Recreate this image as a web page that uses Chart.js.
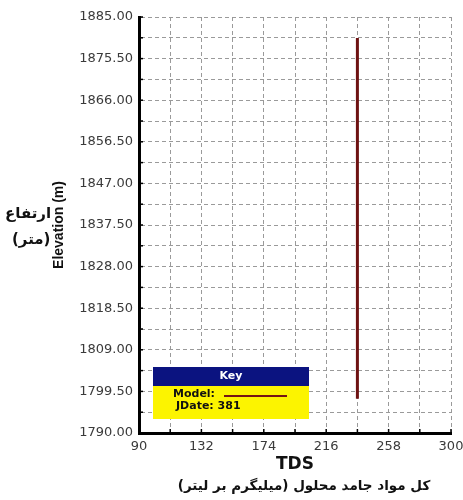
<!DOCTYPE html>
<html>
<head>
<style>
	body { margin: 0; background: #fff; }
	#wrap { position: relative; width: 463px; height: 500px; }
	.fa { position: absolute; font-family: "DejaVu Sans", sans-serif; font-weight: bold; font-size: 15px; color: #111; direction: rtl; white-space: nowrap; }
</style>
</head>
<body>
	<div id="wrap">
		<canvas id="myChart" width="463" height="500"></canvas>
		<div class="fa" style="left:5px; top:204px;">ارتفاع</div>
		<div class="fa" style="left:12px; top:230px;">(متر)</div>
		<div class="fa" style="left:150px; width:308px; text-align:center; top:477px; font-size:13.5px;">کل مواد جامد محلول (میلیگرم بر لیتر)</div>
	</div>

	<script src="https://cdn.jsdelivr.net/npm/chart.js"></script>

	<script>

		// values
		const tds = [237, 237]
		const elevation = [1797.8, 1880.2]
		const xTickLabels = [90, 132, 174, 216, 258, 300]
		const yTickLabels = [1790, 1799.5, 1809, 1818.5, 1828, 1837.5, 1847, 1856.5, 1866, 1875.5, 1885]
		const keyDate = 381

		const points = tds.map((x, i) => ({ x: x, y: elevation[i] }))

		// small tick marks on the inside of the axes + the "Key" box
		const extras = {
			id: 'extras',
			afterDraw(chart) {
				const c = chart.ctx
				const a = chart.chartArea
				const xs = chart.scales.x, ys = chart.scales.y
				c.save()
				c.strokeStyle = '#000'
				c.lineWidth = 1.5
				xs.ticks.forEach(t => {
					const px = xs.getPixelForValue(t.value)
					c.beginPath(); c.moveTo(px, a.bottom); c.lineTo(px, a.bottom - 4); c.stroke()
				})
				ys.ticks.forEach(t => {
					const py = ys.getPixelForValue(t.value)
					c.beginPath(); c.moveTo(a.left, py); c.lineTo(a.left + 4, py); c.stroke()
				})

				// key box
				const bx = a.left + 14, by = a.bottom - 66, bw = 156
				c.fillStyle = '#0b1380'
				c.fillRect(bx, by, bw, 19)
				c.fillStyle = '#fcf400'
				c.fillRect(bx, by + 19, bw, 33)
				c.fillStyle = '#fff'
				c.font = 'bold 11px "DejaVu Sans"'
				c.textAlign = 'center'
				c.textBaseline = 'middle'
				c.fillText('Key', bx + bw / 2, by + 9)
				c.fillStyle = '#111'
				c.textAlign = 'left'
				c.fillText('Model:', bx + 20, by + 27)
				c.fillText('JDate: ' + keyDate, bx + 23, by + 39)
				c.strokeStyle = '#741414'
				c.lineWidth = 2
				c.beginPath(); c.moveTo(bx + 71, by + 29); c.lineTo(bx + 134, by + 29); c.stroke()
				c.restore()
			}
		}

		const tickFont = { family: '"DejaVu Sans"', size: 13 }

		const config = {
			type: 'scatter',
			data: {
				datasets: [
					{
						label: 'Model',
						data: points,
						showLine: true,
						borderColor: '#6e1212',
						borderWidth: 3,
						pointRadius: 0,
					},
				]
			},
			options: {
				responsive: false,
				animation: false,
				layout: { padding: { top: 17, right: 12, left: 0, bottom: 0 } },
				plugins: { legend: { display: false }, tooltip: { enabled: false } },
				scales: {
					x: {
						min: 90,
						max: 300,
						ticks: {
							stepSize: 21,
							autoSkip: false,
							maxRotation: 0,
							padding: 6,
							color: '#3a3a3a',
							font: tickFont,
							callback: v => xTickLabels.some(l => Math.abs(l - v) < 0.01) ? String(v) : ''
						},
						grid: { color: '#9a9a9a', lineWidth: 1, drawTicks: false },
						border: { display: true, color: '#000', width: 3, dash: [4, 3] },
						title: {
							display: true,
							text: 'TDS',
							color: '#111',
							font: { family: '"DejaVu Sans"', size: 17, weight: 'bold' },
							padding: { top: 0, bottom: 25 }
						},
						afterFit(scale) { scale.height = 67; scale.paddingRight = 0 }
					},
					y: {
						min: 1790,
						max: 1885,
						ticks: {
							stepSize: 4.75,
							autoSkip: false,
							padding: 6,
							color: '#3a3a3a',
							font: tickFont,
							callback: v => {
								const l = yTickLabels.find(l => Math.abs(l - v) < 0.01)
								return l === undefined ? '' : l.toFixed(2)
							}
						},
						grid: { color: '#9a9a9a', lineWidth: 1, drawTicks: false },
						border: { display: true, color: '#000', width: 3, dash: [4, 3] },
						title: {
							display: true,
							text: 'Elevation (m)',
							color: '#111',
							font: { family: '"Liberation Sans", Arial', size: 14, weight: 'bold' },
							padding: { top: 51, bottom: 0 }
						},
						afterFit(scale) { scale.width = 139 }
					}
				}
			},
			plugins: [extras]
		}

		const chart = new Chart(document.getElementById('myChart'), config)

	</script>
</body>
</html>
